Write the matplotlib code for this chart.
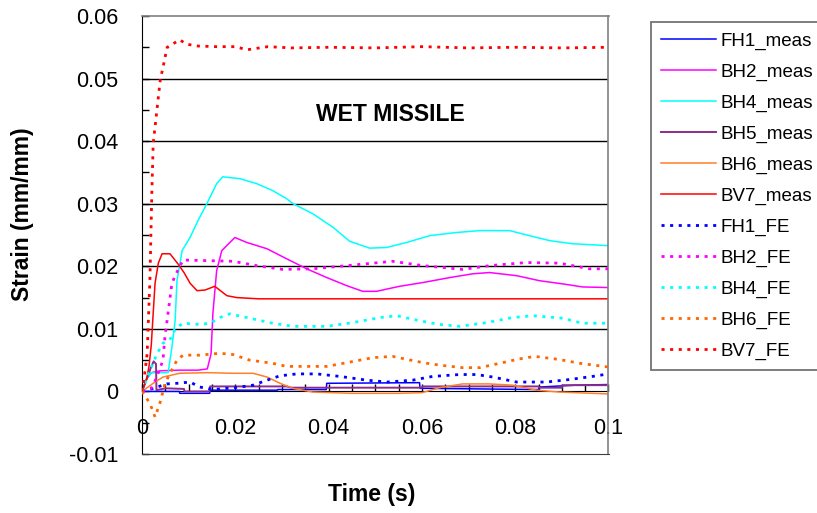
import matplotlib
matplotlib.use("Agg")
import matplotlib.pyplot as plt
from matplotlib.ticker import MultipleLocator, FixedLocator

plt.rcParams['font.family'] = ['Liberation Sans', 'DejaVu Sans']

# ---------------- data ----------------
fh1_meas_t = [0, 0.008, 0.0081, 0.0145, 0.0146, 0.029, 0.0291, 0.0395, 0.0396, 0.0595, 0.0596, 0.085, 0.0851, 0.093, 0.1]
fh1_meas_v = [0, 0, -0.0003, -0.0003, 0.0002, 0.0002, 0.0003, 0.0003, 0.0013, 0.0014, 0.0005, 0.0003, 0.0007, 0.001, 0.0011]

bh2_meas_t = [0, 0.001, 0.002, 0.004, 0.008, 0.012, 0.014, 0.0148, 0.0152, 0.016, 0.0171, 0.0199, 0.0225, 0.0268, 0.031,
              0.0353, 0.0396, 0.0439, 0.0473, 0.0503, 0.0552, 0.0602, 0.066, 0.0709, 0.0745, 0.0803, 0.0852, 0.091, 0.0944, 0.1]
bh2_meas_v = [0, 0.002, 0.003, 0.0033, 0.0034, 0.0034, 0.0036, 0.006, 0.0125, 0.0193, 0.0225, 0.0246, 0.0238, 0.0228, 0.0212,
              0.0196, 0.0182, 0.0169, 0.016, 0.016, 0.0168, 0.0174, 0.0182, 0.0188, 0.019, 0.0185, 0.0177, 0.0171, 0.0167, 0.0166]

bh4_meas_t = [0, 0.001, 0.002, 0.004, 0.0056, 0.0064, 0.0071, 0.0075, 0.0086, 0.0103, 0.012, 0.0139, 0.016, 0.0173, 0.021,
              0.0246, 0.028, 0.031, 0.0324, 0.0366, 0.041, 0.0445, 0.0488, 0.0524, 0.0567, 0.0617, 0.0674, 0.0724, 0.0788,
              0.083, 0.0874, 0.0923, 0.1]
bh4_meas_v = [0, 0.002, 0.003, 0.003, 0.003, 0.007, 0.0113, 0.0177, 0.0225, 0.0246, 0.0273, 0.030, 0.0332, 0.0343, 0.034,
              0.0332, 0.0321, 0.0308, 0.030, 0.0284, 0.0262, 0.0240, 0.0229, 0.023, 0.0238, 0.0249, 0.0254, 0.0257, 0.0257,
              0.0249, 0.0241, 0.0236, 0.0233]

bh5_meas_t = [0, 0.001, 0.002, 0.0025, 0.003, 0.0031, 0.005, 0.009, 0.0091, 0.0145, 0.0146, 0.031, 0.032, 0.06, 0.0601,
              0.085, 0.0851, 0.09, 0.0901, 0.1]
bh5_meas_v = [0, 0.002, 0.004, 0.0048, 0.0044, 0.0002, 0.0005, 0.0004, 0.0, 0.0, 0.0008, 0.0008, 0.0006, 0.0006, 0.0008,
              0.0008, 0.0006, 0.0006, 0.001, 0.001]

bh6_meas_t = [0, 0.0024, 0.0045, 0.0081, 0.0139, 0.0195, 0.0238, 0.0268, 0.0296, 0.0323, 0.0366, 0.045, 0.055, 0.06,
              0.0638, 0.0687, 0.0745, 0.0794, 0.0846, 0.0895, 0.1]
bh6_meas_v = [0, 0.0013, 0.0023, 0.0029, 0.003, 0.0029, 0.0029, 0.0023, 0.0013, 0.0005, -0.0001, -0.0003, -0.0003, -0.0002,
              0.0006, 0.0012, 0.0012, 0.001, 0.0002, -0.0001, -0.0004]

bv7_meas_t = [0, 0.0005, 0.001, 0.0015, 0.002, 0.0024, 0.0028, 0.0035, 0.0043, 0.006, 0.0077, 0.009, 0.0103, 0.0118,
              0.0135, 0.0156, 0.0182, 0.0203, 0.025, 0.1]
bv7_meas_v = [0, 0.001, 0.002, 0.004, 0.0075, 0.0125, 0.0173, 0.0205, 0.022, 0.022, 0.0204, 0.019, 0.0173, 0.0161,
              0.0162, 0.0168, 0.0153, 0.015, 0.0148, 0.0148]

fh1_fe_t = [0, 0.002, 0.0053, 0.0075, 0.0103, 0.0124, 0.0152, 0.0182, 0.021, 0.0238, 0.0268, 0.0296, 0.0332, 0.0375,
            0.0424, 0.0482, 0.0525, 0.058, 0.0623, 0.0681, 0.0717, 0.0752, 0.0803, 0.0867, 0.0916, 0.0966, 0.1]
fh1_fe_v = [0, 0.0004, 0.0012, 0.0013, 0.0015, 0.0007, 0.0003, 0.0005, 0.0007, 0.001, 0.0018, 0.0025, 0.0028, 0.0028,
            0.0024, 0.0018, 0.0015, 0.0018, 0.0024, 0.0027, 0.0027, 0.0023, 0.0015, 0.0015, 0.0019, 0.0024, 0.0028]

bh2_fe_t = [0, 0.002, 0.003, 0.0045, 0.0049, 0.0064, 0.0071, 0.0088, 0.0195, 0.0246, 0.0302, 0.0366, 0.0439, 0.0537,
            0.0602, 0.0687, 0.0745, 0.0824, 0.0895, 0.0959, 0.1]
bh2_fe_v = [0, 0.0005, 0.002, 0.005, 0.0086, 0.0172, 0.0185, 0.021, 0.0208, 0.0201, 0.0195, 0.0196, 0.0201, 0.0208,
            0.0201, 0.0195, 0.0201, 0.0206, 0.0205, 0.0196, 0.0196]

bh4_fe_t = [0, 0.0015, 0.0032, 0.0045, 0.0064, 0.0071, 0.0088, 0.0124, 0.0146, 0.0167, 0.0188, 0.0231, 0.028, 0.0324,
            0.0396, 0.0452, 0.051, 0.0546, 0.0595, 0.0638, 0.0681, 0.0739, 0.0794, 0.0837, 0.0902, 0.0944, 0.1]
bh4_fe_v = [0, 0.003, 0.006, 0.0077, 0.0086, 0.010, 0.0109, 0.0107, 0.0109, 0.0118, 0.0124, 0.0117, 0.0109, 0.0104,
            0.0104, 0.011, 0.0118, 0.0121, 0.0113, 0.0107, 0.0104, 0.011, 0.0118, 0.0121, 0.0117, 0.0109, 0.0109]

bh6_fe_t = [0, 0.0017, 0.0028, 0.0039, 0.0049, 0.006, 0.0075, 0.0088, 0.0124, 0.0167, 0.0195, 0.0231, 0.028, 0.031,
            0.0396, 0.0439, 0.0495, 0.0537, 0.0602, 0.0638, 0.0687, 0.0724, 0.0767, 0.0809, 0.0842, 0.0895, 0.0938, 0.1]
bh6_fe_v = [0, -0.0019, -0.0041, -0.0017, 0.0012, 0.0029, 0.005, 0.0058, 0.0058, 0.0061, 0.0059, 0.005, 0.0045, 0.004,
            0.004, 0.0046, 0.0054, 0.0056, 0.0046, 0.0042, 0.0038, 0.0038, 0.0045, 0.0052, 0.0056, 0.0051, 0.0045, 0.0039]

bv7_fe_t = [0, 0.0004, 0.0011, 0.0017, 0.0021, 0.0024, 0.0039, 0.0054, 0.0081, 0.0095, 0.012, 0.016, 0.02, 0.0225,
            0.027, 0.032, 0.04, 0.05, 0.06, 0.07, 0.08, 0.09, 0.1]
bv7_fe_v = [0, 0.0018, 0.006, 0.018, 0.0316, 0.0396, 0.0497, 0.055, 0.0562, 0.0555, 0.0552, 0.0551, 0.0551, 0.0546,
            0.0551, 0.0549, 0.055, 0.0549, 0.0551, 0.0549, 0.055, 0.0549, 0.055]

x_ticks = [0, 0.02, 0.04, 0.06, 0.08, 0.1]
x_tick_labels = ['0', '0.02', '0.04', '0.06', '0.08', '0.1']
y_ticks = [-0.01, 0, 0.01, 0.02, 0.03, 0.04, 0.05, 0.06]
y_tick_labels = ['-0.01', '0', '0.01', '0.02', '0.03', '0.04', '0.05', '0.06']

meas_series = [
    ('FH1_meas', fh1_meas_t, fh1_meas_v, '#0000FF', 1.1),
    ('BH2_meas', bh2_meas_t, bh2_meas_v, '#FF00FF', 1.1),
    ('BH4_meas', bh4_meas_t, bh4_meas_v, '#00FFFF', 1.1),
    ('BH5_meas', bh5_meas_t, bh5_meas_v, '#8B2D8B', 1.4),
    ('BH6_meas', bh6_meas_t, bh6_meas_v, '#FF7F2A', 1.1),
    ('BV7_meas', bv7_meas_t, bv7_meas_v, '#FF0000', 1.1),
]
fe_series = [
    ('FH1_FE', fh1_fe_t, fh1_fe_v, '#0000FF'),
    ('BH2_FE', bh2_fe_t, bh2_fe_v, '#FF00FF'),
    ('BH4_FE', bh4_fe_t, bh4_fe_v, '#00FFFF'),
    ('BH6_FE', bh6_fe_t, bh6_fe_v, '#FF6600'),
    ('BV7_FE', bv7_fe_t, bv7_fe_v, '#FF0000'),
]

# ---------------- figure ----------------
fig = plt.figure(figsize=(8.17, 5.13), dpi=100)
ax = fig.add_axes([142 / 817, 1 - 454 / 513, (608.5 - 142) / 817, (454 - 16) / 513])

ax.set_xlim(0, 0.1)
ax.set_ylim(-0.01, 0.06)

ax.yaxis.set_major_locator(FixedLocator(y_ticks))
ax.set_yticklabels(y_tick_labels)
ax.yaxis.set_minor_locator(MultipleLocator(0.005))
ax.grid(False)
for gy in [0.01, 0.02, 0.03, 0.04, 0.05]:
    ax.axhline(gy, color='black', lw=1.0, zorder=0.5)

ax.tick_params(axis='y', which='both', direction='in', length=5, width=1, labelsize=15.5, pad=17, color='black')
ax.tick_params(axis='x', which='both', bottom=False, labelbottom=False)

for s in ['top', 'right']:
    ax.spines[s].set_color('#808080')
    ax.spines[s].set_linewidth(1.2)
ax.spines['bottom'].set_color('#404040')
ax.spines['left'].set_color('black')

# x-axis crossing at zero
sec = ax.secondary_xaxis(1 / 7)
sec.set_xticks(x_ticks)
sec.set_xticklabels(x_tick_labels)
sec.xaxis.set_minor_locator(MultipleLocator(0.005))
sec.tick_params(axis='x', which='both', direction='in', length=5, width=1, labelsize=15.5, pad=19, color='black')
sec.spines['bottom'].set_color('black')

handles = []
for name, t, v, c, lw in meas_series:
    h, = ax.plot(t, v, color=c, lw=lw, label=name, zorder=2)
    handles.append(h)
for name, t, v, c in fe_series:
    h, = ax.plot(t, v, color=c, lw=2.0, linestyle=(0, (1.1, 2.0)), label=name, zorder=3)
    handles.append(h)

ax.text(0.0532, 0.0442, 'WET MISSILE', fontsize=16.5, fontweight='bold', ha='center', va='center')

fig.text(23 / 817, 1 - 214 / 513, 'Strain (mm/mm)', rotation=90, fontsize=16.5, fontweight='bold',
         ha='center', va='center')
fig.text(372 / 817, 1 - 494 / 513, 'Time (s)', fontsize=16.5, fontweight='bold', ha='center', va='center')

leg = ax.legend(handles=handles, loc='upper left', bbox_to_anchor=(651 / 817, 1 - 22 / 513),
                bbox_transform=fig.transFigure, fontsize=13.5, frameon=True, fancybox=False,
                handlelength=2.9, handletextpad=0.25, labelspacing=0.73, borderpad=0.55,
                borderaxespad=0)
leg.get_frame().set_edgecolor('#505050')
leg.get_frame().set_linewidth(1.3)

fig.savefig('out.png', dpi=100)
